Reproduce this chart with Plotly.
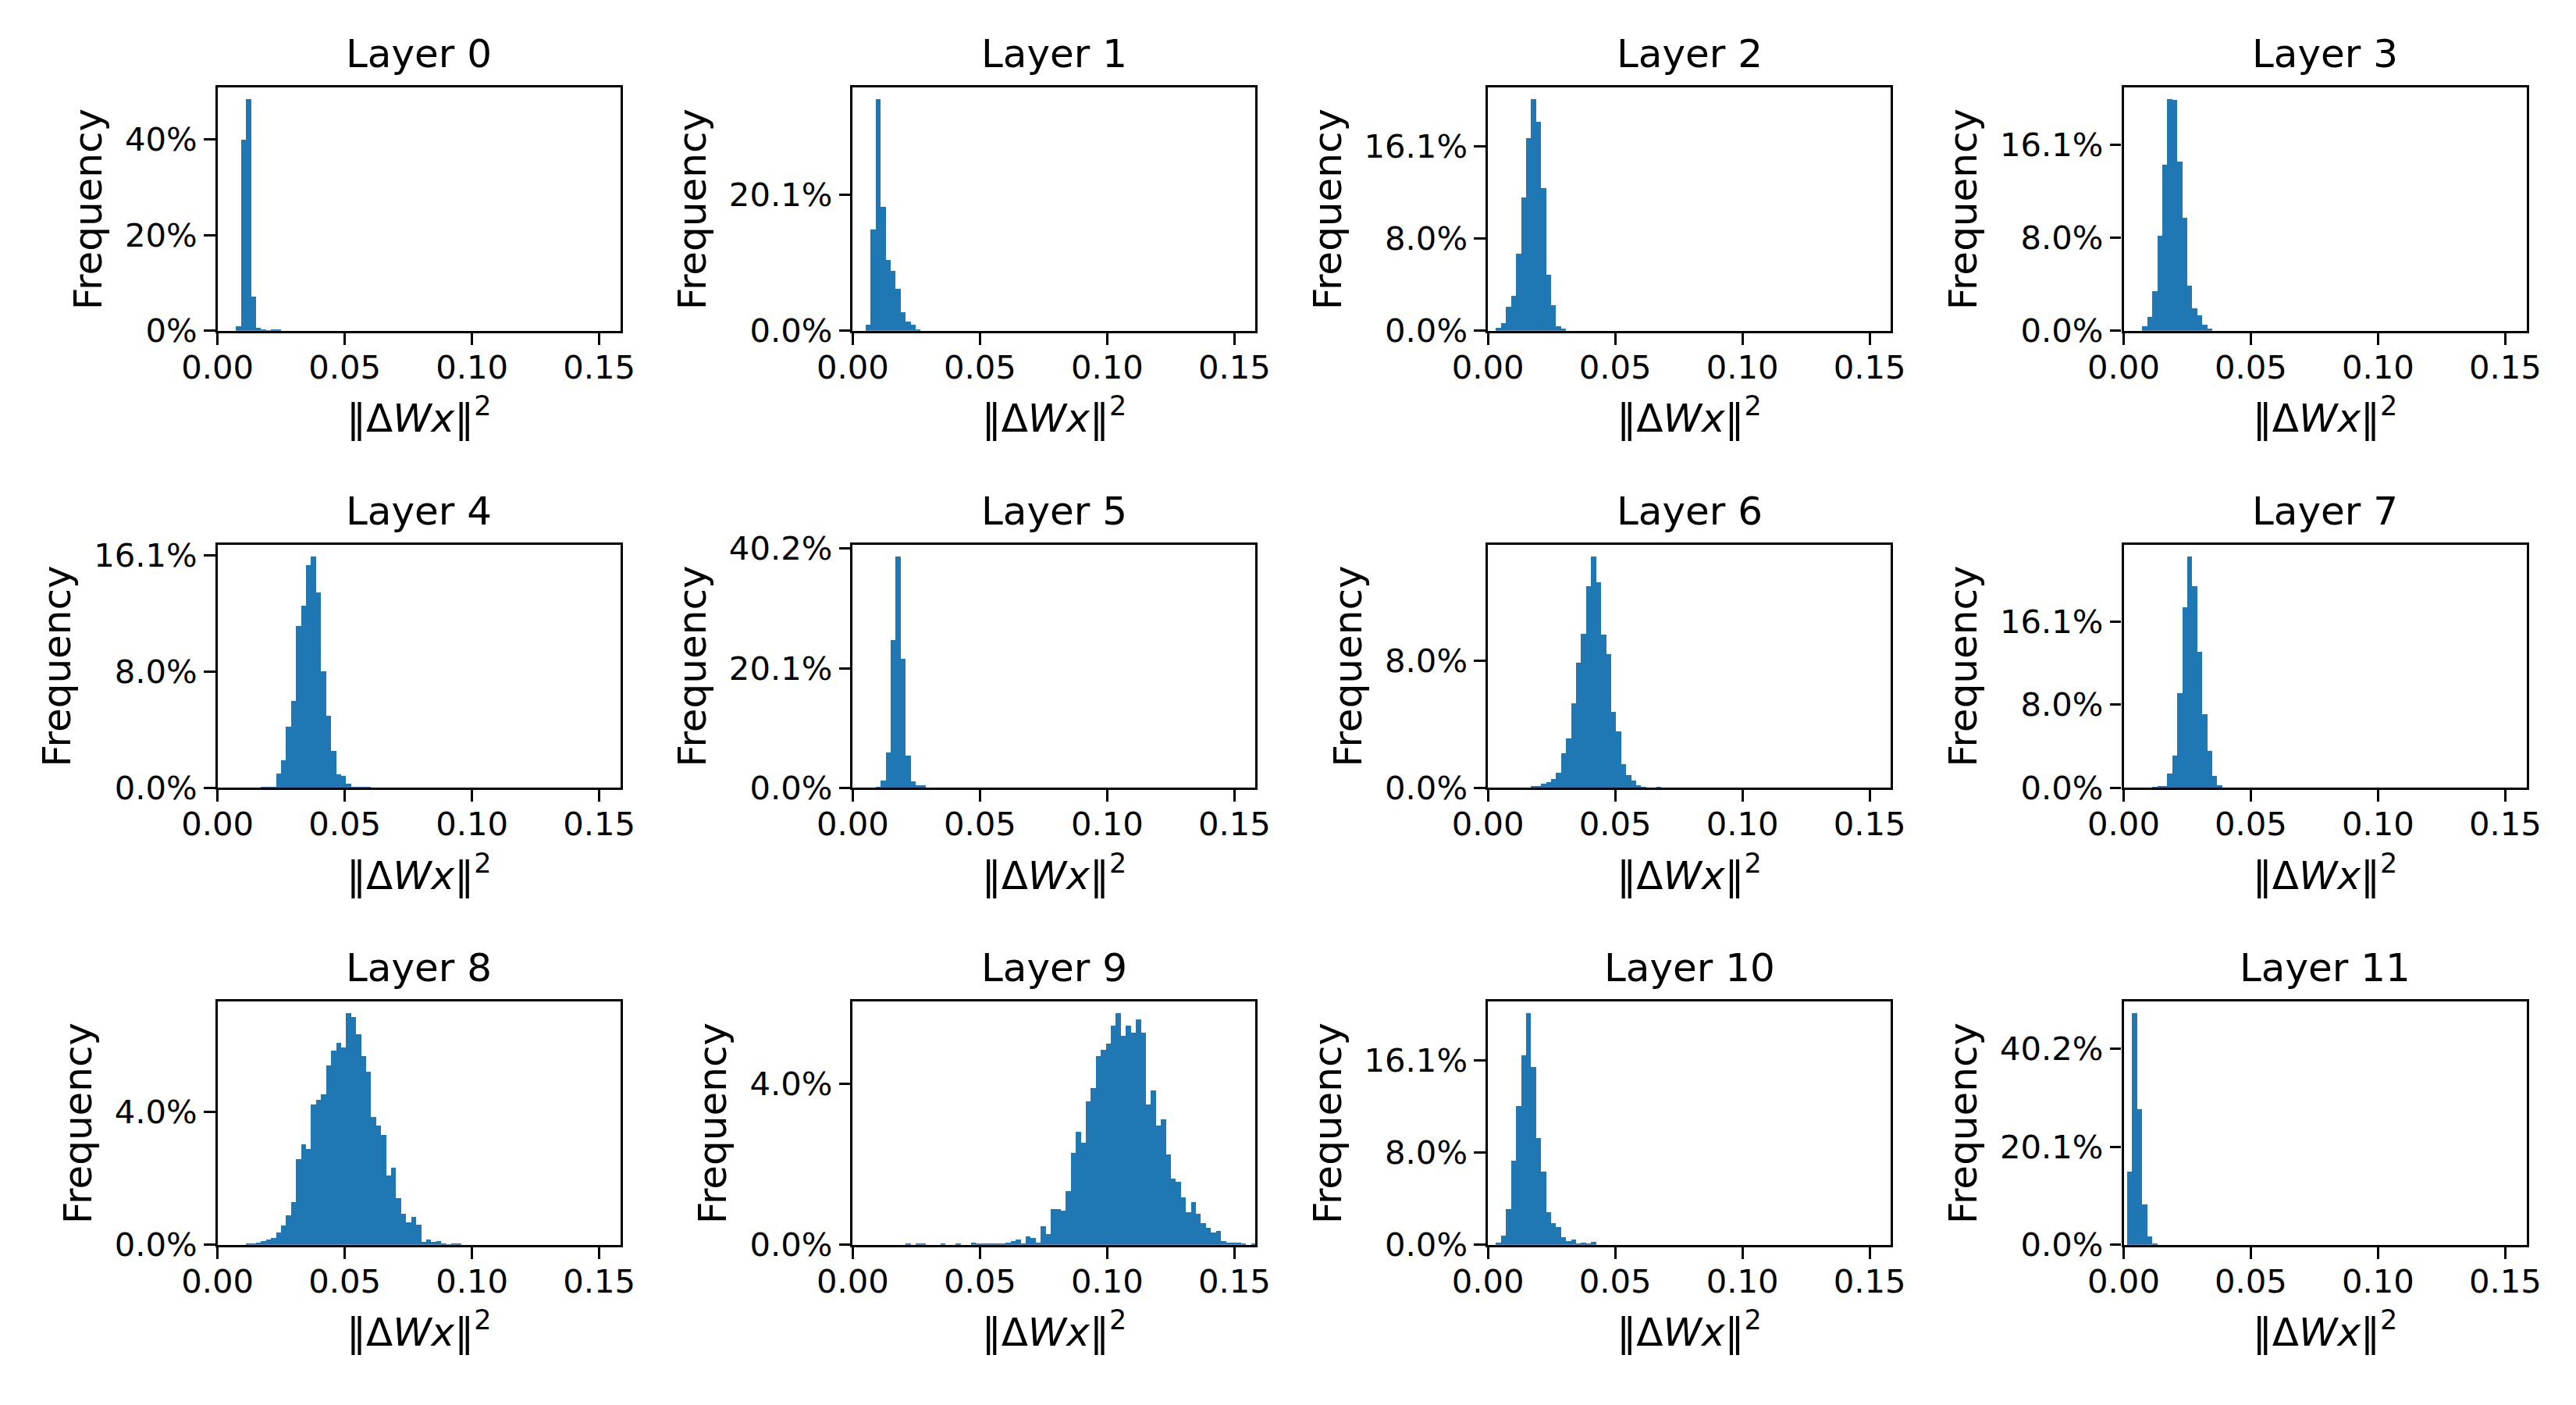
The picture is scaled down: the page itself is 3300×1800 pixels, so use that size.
import plotly.graph_objects as go

# ---------------- data ----------------
BIN_START = 0.00125      # left edge of the first histogram bin
BIN_WIDTH = 0.001967     # common bin width of all layers
X_MAX = 0.1583

layer_titles = [f"Layer {i}" for i in range(12)]
first_bin = [3, 2, 1, 3, 8, 4, 8, 5, 5, 10, 1, 0]

freq_layer0 = [0.87, 39.9, 48.4, 7.08, 0.54, 0.22, 0.05, 0.10, 0.10]
freq_layer1 = [0.85, 14.9, 34.2, 18.3, 10.4, 8.8, 6.2, 2.7, 1.3, 0.85, 0.15]
freq_layer2 = [0.23, 0.64, 2.07, 3.02, 6.7, 11.6, 16.8, 20.2, 18.2, 12.4, 4.86,
               2.2, 0.36, 0.16]
freq_layer3 = [0.36, 1.16, 3.39, 8.17, 14.3, 20.0, 19.9, 14.6, 9.76, 3.87, 1.95,
               1.31, 0.52, 0.16]
freq_layer4 = [0.10, 0.10, 0.05, 1.02, 1.94, 4.24, 6.03, 11.2, 12.6, 15.4, 16.0,
               13.5, 8.07, 4.97, 2.55, 0.92, 0.86, 0.32, 0.10, 0.03, 0.10, 0.10]
freq_layer5 = [0.26, 1.22, 5.94, 24.8, 38.9, 21.7, 5.41, 1.05, 0.44, 0.44]
freq_layer6 = [0.12, 0.12, 0.29, 0.38, 0.58, 0.96, 2.19, 3.13, 5.38, 7.92, 9.79,
               12.8, 14.67, 13.03, 9.73, 8.5, 4.82, 3.59, 1.49, 0.82, 0.47, 0.18,
               0.03, 0.0, 0.0, 0.06]
freq_layer7 = [0.09, 0.22, 0.22, 1.39, 3.17, 9.2, 17.5, 22.4, 19.5, 13.2, 7.1,
               3.62, 1.2, 0.27]
freq_layer8 = [0.04, 0.03, 0.06, 0.11, 0.15, 0.21, 0.36, 0.59, 0.88, 1.28, 2.58,
               3.04, 2.89, 4.23, 4.38, 4.55, 5.43, 5.88, 6.11, 5.96, 7.01, 6.88,
               6.37, 5.71, 5.23, 3.87, 3.6, 3.31, 2.08, 2.32, 1.41, 0.94, 0.68,
               0.84, 0.61, 0.08, 0.15, 0.08, 0.11, 0.04, 0.01, 0.04, 0.04]
freq_layer9 = [0.013, 0.0, 0.013, 0.013, 0.0, 0.0, 0.0, 0.013, 0.0, 0.0, 0.013,
               0.0, 0.0, 0.052, 0.013, 0.013, 0.013, 0.013, 0.013, 0.013, 0.052,
               0.091, 0.13, 0.013, 0.207, 0.168, 0.052, 0.46, 0.265, 0.887,
               0.887, 0.848, 1.334, 2.285, 2.81, 2.54, 3.567, 3.897, 4.694,
               4.849, 5.004, 5.451, 5.768, 5.199, 5.451, 5.276, 5.606, 5.276,
               3.49, 3.839, 2.965, 3.12, 2.246, 1.644, 1.567, 1.178, 0.809,
               1.062, 0.77, 0.537, 0.421, 0.304, 0.343, 0.091, 0.052, 0.052,
               0.052, 0.013, 0.0, 0.013]
freq_layer10 = [0.2, 0.76, 3.13, 7.35, 12.1, 16.5, 20.2, 15.5, 9.31, 6.34, 2.85,
                1.89, 1.53, 0.68, 0.32, 0.44, 0.04, 0.16, 0.12, 0.24]
freq_layer11 = [15.0, 47.4, 27.75, 8.22, 1.71, 0.16]

layer_freqs = [freq_layer0, freq_layer1, freq_layer2, freq_layer3, freq_layer4,
               freq_layer5, freq_layer6, freq_layer7, freq_layer8, freq_layer9,
               freq_layer10, freq_layer11]

ytick_vals = [[0, 20, 40], [0, 20.1], [0, 8.04, 16.08], [0, 8.04, 16.08],
              [0, 8.04, 16.08], [0, 20.1, 40.2], [0, 8.04], [0, 8.04, 16.08],
              [0, 4.02], [0, 4.02], [0, 8.04, 16.08], [0, 20.1, 40.2]]
ytick_text = [["0%", "20%", "40%"], ["0.0%", "20.1%"],
              ["0.0%", "8.0%", "16.1%"], ["0.0%", "8.0%", "16.1%"],
              ["0.0%", "8.0%", "16.1%"], ["0.0%", "20.1%", "40.2%"],
              ["0.0%", "8.0%"], ["0.0%", "8.0%", "16.1%"],
              ["0.0%", "4.0%"], ["0.0%", "4.0%"],
              ["0.0%", "8.0%", "16.1%"], ["0.0%", "20.1%", "40.2%"]]
xtick_vals = [0.0, 0.05, 0.10, 0.15]
xtick_text = ["0.00", "0.05", "0.10", "0.15"]

x_title = "‖Δ<i>Wx</i>‖<sup>2</sup>"
y_title = "Frequency"

# ---------------- layout constants ----------------
W, H = 3300, 1800
PAGE_OFFSET = 8          # default body margin of the html page
col_left = [278.7, 1092.4, 1906.1, 2720.5]
row_top = [112.3, 697.8, 1283.3]
panel_w, panel_h = 516.0, 311.5
BAR_COLOR = "#1f77b4"
FONT = "DejaVu Sans"
TICK_SIZE = 41.7
LABEL_SIZE = 50
LINE_W = 3.3

fig = go.Figure()
layout = dict(
    width=W, height=H,
    autosize=False,
    margin=dict(l=0, r=0, t=0, b=0, pad=0, autoexpand=False),
    paper_bgcolor="white", plot_bgcolor="white",
    showlegend=False,
    font=dict(family=FONT, color="black", size=TICK_SIZE),
    bargap=0,
    annotations=[],
)

for i in range(12):
    r, c = divmod(i, 4)
    xa = f"xaxis{i + 1}" if i else "xaxis"
    ya = f"yaxis{i + 1}" if i else "yaxis"
    xref = f"x{i + 1}" if i else "x"
    yref = f"y{i + 1}" if i else "y"

    freqs = layer_freqs[i]
    centers = [BIN_START + (first_bin[i] + k + 0.5) * BIN_WIDTH
               for k in range(len(freqs))]
    fig.add_trace(go.Bar(
        x=centers, y=freqs, width=BIN_WIDTH,
        marker=dict(color=BAR_COLOR, line=dict(width=0)),
        xaxis=xref, yaxis=yref, hoverinfo="x+y",
    ))

    left = col_left[c] - PAGE_OFFSET
    top = row_top[r] - PAGE_OFFSET
    x0 = left / W
    x1 = (left + panel_w) / W
    y1 = 1 - top / H
    y0 = 1 - (top + panel_h) / H
    ymax = max(freqs) * 1.05

    layout[xa] = dict(
        domain=[x0, x1], anchor=yref, range=[0, X_MAX], automargin=False,
        tickmode="array", tickvals=xtick_vals, ticktext=xtick_text,
        ticks="outside", ticklen=14.6, tickwidth=LINE_W, tickcolor="black",
        ticklabelstandoff=-7,
        showline=True, mirror=True, linecolor="black", linewidth=LINE_W,
        showgrid=False, zeroline=False,
        tickfont=dict(family=FONT, size=TICK_SIZE, color="black"),
        title=dict(text=x_title, standoff=25,
                   font=dict(family=FONT, size=LABEL_SIZE, color="black")),
    )
    layout[ya] = dict(
        domain=[y0, y1], anchor=xref, range=[0, ymax], automargin=False,
        tickmode="array", tickvals=ytick_vals[i], ticktext=ytick_text[i],
        ticks="outside", ticklen=14.6, tickwidth=LINE_W, tickcolor="black",
        showline=True, mirror=True, linecolor="black", linewidth=LINE_W,
        showgrid=False, zeroline=False,
        tickfont=dict(family=FONT, size=TICK_SIZE, color="black"),
        title=dict(text=y_title, standoff=14,
                   font=dict(family=FONT, size=LABEL_SIZE, color="black")),
    )
    layout["annotations"].append(dict(
        text=layer_titles[i], xref="paper", yref="paper",
        x=(x0 + x1) / 2, y=y1, xanchor="center", yanchor="bottom",
        yshift=12, showarrow=False,
        font=dict(family=FONT, size=LABEL_SIZE, color="black"),
    ))

fig.update_layout(**layout)
fig.write_html("out.html")
